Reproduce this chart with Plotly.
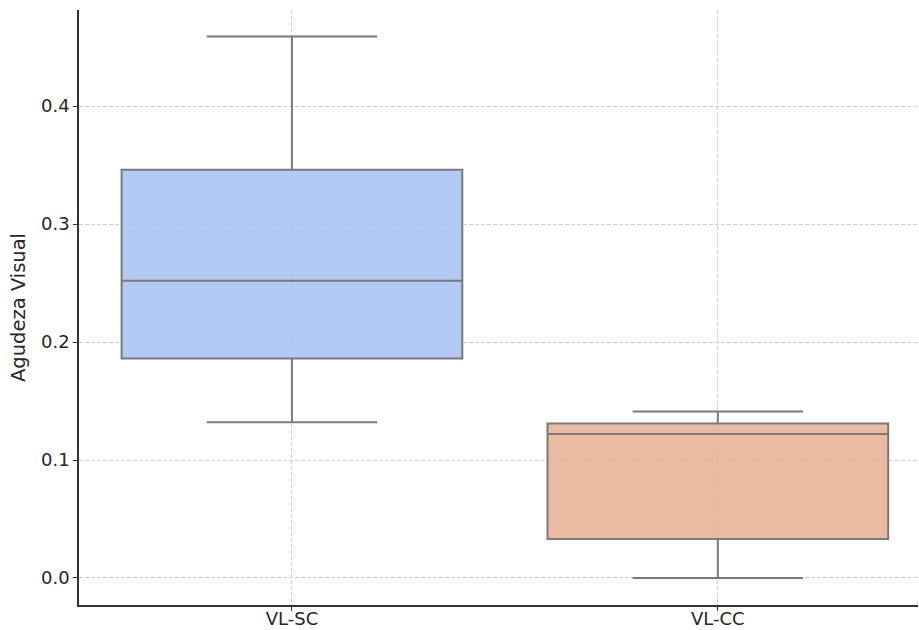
import plotly.graph_objects as go

categories = ["VL-SC", "VL-CC"]
lower_whisker = [0.132, 0.0]
q1_values = [0.186, 0.033]
medians = [0.252, 0.122]
q3_values = [0.346, 0.131]
upper_whisker = [0.459, 0.141]
fill_colors = ["rgba(170,196,243,0.9)", "rgba(232,178,153,0.9)"]

y_ticks = [0.0, 0.1, 0.2, 0.3, 0.4]

fig = go.Figure()
for i, cat in enumerate(categories):
    fig.add_trace(go.Box(
        x=[cat],
        q1=[q1_values[i]], median=[medians[i]], q3=[q3_values[i]],
        lowerfence=[lower_whisker[i]], upperfence=[upper_whisker[i]],
        width=0.8, whiskerwidth=0.5,
        fillcolor=fill_colors[i],
        line=dict(color="#7a7a7a", width=2),
        boxpoints=False, showlegend=False, hoverinfo="skip",
    ))

fig.update_layout(
    width=919, height=630,
    margin=dict(l=79, r=1, t=10, b=25),
    plot_bgcolor="white", paper_bgcolor="white",
    font=dict(family="DejaVu Sans", size=18, color="#262626"),
    xaxis=dict(
        type="category", categoryorder="array", categoryarray=categories,
        range=[-0.5, 1.47], automargin=False,
        showline=True, linecolor="#333333", linewidth=1.5,
        ticks="outside", ticklen=4, tickcolor="#333333", tickwidth=1.2,
        ticklabelstandoff=-7,
        showgrid=True, gridcolor="#d0d0d0", griddash="4px,2px", gridwidth=1,
        zeroline=False, tickfont=dict(size=18, color="#262626"),
    ),
    yaxis=dict(
        title=dict(text="Agudeza Visual", font=dict(size=19.5, color="#262626"), standoff=10),
        range=[-0.0229, 0.4814], automargin=False,
        tickvals=y_ticks, ticktext=[f"{v:.1f}" for v in y_ticks],
        showline=True, linecolor="#333333", linewidth=1.5,
        ticks="outside", ticklen=4, tickcolor="#333333", tickwidth=1.2,
        showgrid=True, gridcolor="#d0d0d0", griddash="4px,2px", gridwidth=1,
        zeroline=False, tickfont=dict(size=18, color="#262626"),
    ),
)

fig.write_html(
    "out.html",
    config={"displayModeBar": False},
    post_script="document.body.style.margin='0';document.body.style.overflow='hidden';",
)
